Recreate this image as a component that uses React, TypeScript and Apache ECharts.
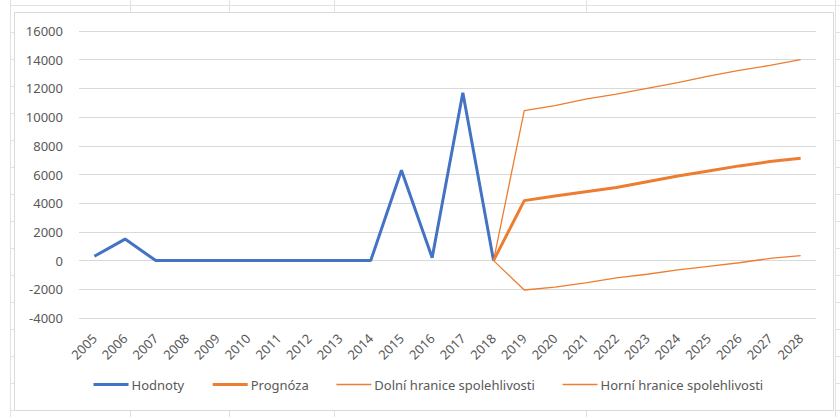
import React, { useEffect, useRef } from "react";
import * as echarts from "echarts";

const years = [
  "2005", "2006", "2007", "2008", "2009", "2010", "2011", "2012", "2013", "2014",
  "2015", "2016", "2017", "2018", "2019", "2020", "2021", "2022", "2023", "2024",
  "2025", "2026", "2027", "2028",
];

const hodnoty = [
  300, 1500, 0, 0, 0, 0, 0, 0, 0, 0, 6300, 200, 11700, 0,
  null, null, null, null, null, null, null, null, null, null,
];

const prognoza = [
  null, null, null, null, null, null, null, null, null, null, null, null, null,
  0, 4180, 4500, 4800, 5100, 5500, 5900, 6250, 6600, 6900, 7130,
];

const dolniHranice = [
  null, null, null, null, null, null, null, null, null, null, null, null, null,
  0, -2050, -1850, -1550, -1200, -950, -650, -400, -150, 150, 350,
];

const horniHranice = [
  null, null, null, null, null, null, null, null, null, null, null, null, null,
  0, 10450, 10800, 11250, 11600, 12000, 12400, 12850, 13250, 13600, 14000,
];

const yMin = -4000;
const yMax = 16000;
const yInterval = 2000;

const seriesNames = [
  "Hodnoty",
  "Prognóza",
  "Dolní hranice spolehlivosti",
  "Horní hranice spolehlivosti",
];
const seriesColors = ["#4472C4", "#ED7D31", "#ED7D31", "#ED7D31"];
const seriesWidths = [3, 3, 1.3, 1.3];

const FONT = "'Noto Sans', 'Open Sans', sans-serif";
const TEXT = "#595959";
const SHEET = "#e2e2e2";
const BORDER = "#d9d9d9";

function sheetDecor() {
  const els: any[] = [];
  els.push({ type: "line", silent: true, shape: { x1: 10, y1: 5.5, x2: 840, y2: 5.5 }, style: { stroke: SHEET, lineWidth: 1 } });
  els.push({ type: "line", silent: true, shape: { x1: 10.5, y1: 0, x2: 10.5, y2: 417 }, style: { stroke: SHEET, lineWidth: 1 } });
  els.push({ type: "line", silent: true, shape: { x1: 835.5, y1: 0, x2: 835.5, y2: 417 }, style: { stroke: SHEET, lineWidth: 1 } });
  for (let k = 1; k <= 15; k++) {
    const y = 5.5 + 27 * k;
    els.push({ type: "line", silent: true, shape: { x1: 10, y1: y, x2: 14, y2: y }, style: { stroke: SHEET, lineWidth: 1 } });
    els.push({ type: "line", silent: true, shape: { x1: 835, y1: y, x2: 840, y2: y }, style: { stroke: SHEET, lineWidth: 1 } });
  }
  [130.5, 229.5, 334.5, 586.5].forEach((x) => {
    els.push({ type: "line", silent: true, shape: { x1: x, y1: 0, x2: x, y2: 12 }, style: { stroke: SHEET, lineWidth: 1 } });
    els.push({ type: "line", silent: true, shape: { x1: x, y1: 411, x2: x, y2: 417 }, style: { stroke: SHEET, lineWidth: 1 } });
  });
  els.push({
    type: "rect",
    silent: true,
    shape: { x: 14.5, y: 12.5, width: 819, height: 398 },
    style: { fill: "none", stroke: BORDER, lineWidth: 1 },
  });
  return els;
}

export default function App() {
  const ref = useRef<HTMLDivElement>(null);

  useEffect(() => {
    if (!ref.current) return;
    const chart = echarts.init(ref.current, undefined, { renderer: "svg" });
    const dataSets = [hodnoty, prognoza, dolniHranice, horniHranice];
    chart.setOption({
      animation: false,
      backgroundColor: "#ffffff",
      textStyle: { fontFamily: FONT },
      grid: { left: 79, right: 24, top: 31, bottom: 417 - 318, containLabel: false },
      graphic: { elements: sheetDecor() },
      legend: {
        data: seriesNames.map((name, i) => ({
          name,
          lineStyle: { width: seriesWidths[i], color: seriesColors[i] },
        })),
        left: 92,
        top: 378,
        padding: 0,
        itemWidth: 35,
        itemHeight: 14,
        itemGap: 27,
        itemStyle: { opacity: 0 },
        textStyle: { fontSize: 13, color: TEXT, fontFamily: FONT, padding: [0, 0, 0, -2] },
      },
      xAxis: {
        type: "category",
        data: years,
        boundaryGap: true,
        axisLine: { show: false, onZero: false },
        axisTick: { show: false },
        axisLabel: {
          rotate: 45,
          margin: 18,
          interval: 0,
          fontSize: 13,
          color: TEXT,
          fontFamily: FONT,
        },
        splitLine: { show: false },
      },
      yAxis: {
        type: "value",
        min: yMin,
        max: yMax,
        interval: yInterval,
        axisLine: { show: false },
        axisTick: { show: false },
        axisLabel: {
          margin: 16,
          fontSize: 13,
          color: TEXT,
          fontFamily: FONT,
          formatter: (v: number) => String(v),
        },
        splitLine: { lineStyle: { color: BORDER, width: 1 } },
      },
      series: seriesNames.map((name, i) => ({
        name,
        type: "line",
        data: dataSets[i],
        symbol: "none",
        lineStyle: { color: seriesColors[i], width: seriesWidths[i] },
        itemStyle: { color: seriesColors[i] },
        z: i === 1 ? 4 : i === 0 ? 3 : 2,
      })),
    });
    return () => chart.dispose();
  }, []);

  return (
    <div
      ref={ref}
      style={{ position: "fixed", left: 0, top: 0, width: 840, height: 417 }}
    />
  );
}
